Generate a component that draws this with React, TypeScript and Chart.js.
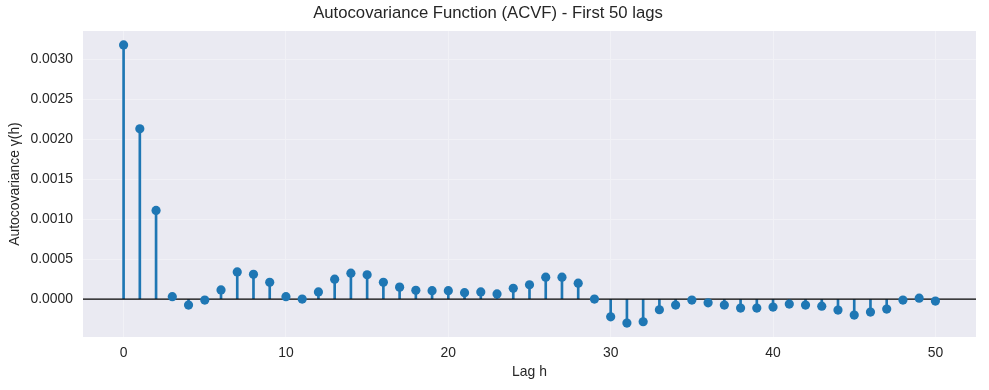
import React, { useEffect, useRef } from "react";
import { Chart, registerables } from "chart.js";

Chart.register(...registerables);

const lags = [0, 1, 2, 3, 4, 5, 6, 7, 8, 9, 10, 11, 12, 13, 14, 15, 16, 17, 18, 19, 20, 21, 22, 23, 24, 25, 26, 27, 28, 29, 30, 31, 32, 33, 34, 35, 36, 37, 38, 39, 40, 41, 42, 43, 44, 45, 46, 47, 48, 49, 50];
const acvf = [
  0.00318, 0.00213, 0.00111, 0.00003, -0.000075, -0.000012, 0.000115, 0.00034, 0.00031, 0.00021,
  0.00003, 0.0, 0.00009, 0.00025, 0.000325, 0.000305, 0.00021, 0.00015, 0.00011, 0.000105,
  0.000105, 0.00008, 0.00009, 0.000065, 0.000135, 0.00018, 0.000275, 0.000275, 0.0002, 0.0,
  -0.000222, -0.0003, -0.000283, -0.000133, -0.000075, -0.000012, -0.000046, -0.000075, -0.000112, -0.000112,
  -0.0001, -0.000062, -0.000075, -0.000088, -0.000137, -0.0002, -0.000162, -0.000125, -0.000012, 0.000012,
  -0.000025,
];
const xTicks = [0, 10, 20, 30, 40, 50];
const yTicks = [0, 0.0005, 0.001, 0.0015, 0.002, 0.0025, 0.003];
const xLimits = [-2.5, 52.5];
const yLimits = [-0.000474, 0.003354];

const title = "Autocovariance Function (ACVF) - First 50 lags";
const xLabel = "Lag h";
const yLabel = "Autocovariance γ(h)";

const FONT = "'Liberation Sans', Arial, Helvetica, sans-serif";
const TEXT = "#262626";
const BLUE = "#1f77b4";
const GRID = "#F1F1F6";

const bgPlugin = {
  id: "plotBg",
  beforeDraw(chart: any) {
    const { ctx, chartArea } = chart;
    ctx.save();
    ctx.fillStyle = "#EAEAF2";
    ctx.fillRect(chartArea.left, chartArea.top, chartArea.right - chartArea.left, chartArea.bottom - chartArea.top);
    ctx.restore();
  },
};

export default function App() {
  const ref = useRef<HTMLCanvasElement | null>(null);

  useEffect(() => {
    document.body.style.margin = "0";
    const canvas = ref.current;
    if (!canvas) return;
    const points = lags.map((x, i) => ({ x, y: acvf[i] }));
    const chart = new Chart(canvas, {
      type: "bar",
      data: {
        datasets: [
          {
            type: "scatter",
            data: points,
            backgroundColor: BLUE,
            borderColor: BLUE,
            borderWidth: 0,
            pointRadius: 4.6,
            showLine: false,
            order: 0,
          } as any,
          {
            type: "line",
            data: [
              { x: xLimits[0], y: 0 },
              { x: xLimits[1], y: 0 },
            ],
            borderColor: "#000000",
            borderWidth: 1.2,
            pointRadius: 0,
            order: 1,
          } as any,
          {
            type: "bar",
            data: points,
            backgroundColor: BLUE,
            borderWidth: 0,
            barThickness: 2,
            order: 2,
          } as any,
        ],
      },
      options: {
        responsive: false,
        animation: false,
        devicePixelRatio: 1,
        layout: { padding: { left: 0, right: 13, top: 0, bottom: 0 } },
        plugins: {
          legend: { display: false },
          tooltip: { enabled: false },
          title: {
            display: true,
            text: title,
            color: TEXT,
            font: { family: FONT, size: 16.7, weight: "normal" },
            padding: { top: 3, bottom: 8 },
          },
        },
        scales: {
          x: {
            type: "linear",
            min: xLimits[0],
            max: xLimits[1],
            offset: false,
            border: { display: false },
            grid: { color: GRID, lineWidth: 1, drawTicks: false, offset: false },
            ticks: {
              color: TEXT,
              font: { family: FONT, size: 13.9 },
              padding: 8,
              maxRotation: 0,
              callback: (v: any) => String(v),
            },
            afterBuildTicks: (scale: any) => {
              scale.ticks = xTicks.map((v) => ({ value: v }));
            },
            afterFit: (scale: any) => {
              scale.height = 53;
            },
            title: {
              display: true,
              text: xLabel,
              color: TEXT,
              font: { family: FONT, size: 13.9 },
              padding: { top: 0, bottom: 9 },
            },
          },
          y: {
            type: "linear",
            min: yLimits[0],
            max: yLimits[1],
            border: { display: false },
            grid: { color: GRID, lineWidth: 1, drawTicks: false },
            ticks: {
              color: TEXT,
              font: { family: FONT, size: 13.9 },
              padding: 10,
              callback: (v: any) => Number(v).toFixed(4),
            },
            afterBuildTicks: (scale: any) => {
              scale.ticks = yTicks.map((v) => ({ value: v }));
            },
            afterFit: (scale: any) => {
              scale.width = 83;
            },
            title: {
              display: true,
              text: yLabel,
              color: TEXT,
              font: { family: FONT, size: 13.9 },
              padding: { top: 7, bottom: 0 },
            },
          },
        },
      } as any,
      plugins: [bgPlugin],
    });
    return () => chart.destroy();
  }, []);

  return (
    <div style={{ position: "relative", width: 989, height: 390 }}>
      <canvas ref={ref} width={989} height={390} style={{ display: "block", width: 989, height: 390 }} />
    </div>
  );
}
